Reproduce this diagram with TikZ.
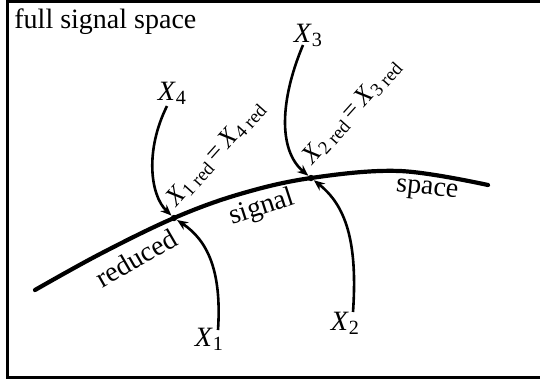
\documentclass[tikz,border=0pt]{standalone}
\usepackage{fontspec}
\setmainfont{Liberation Serif}
\usetikzlibrary{arrows.meta}
\newcommand\lowsub[1]{\raisebox{-0.3ex}{\scalebox{0.72}{#1}}}
\tikzset{
  frame/.style={line width=1.5pt},
  mainline/.style={line width=2.1pt, line cap=round},
  conn/.style={line width=1.3pt, -{Stealth[length=5.5pt,width=4.5pt]}},
  big/.style={font=\fontsize{14}{16}\selectfont, inner sep=0pt},
  small/.style={font=\fontsize{13}{15}\selectfont, inner sep=0pt},
  pt/.style={circle, fill=black, inner sep=0pt, minimum size=3.2pt},
}
\begin{document}
\begin{tikzpicture}[x=0.5pt,y=-0.5pt]
\useasboundingbox (0,0) rectangle (540,388);
\draw[frame] (7,1) rectangle (560,377);
\node[big, anchor=base west] (title) at (14,28) {full signal space};
% main curve
\node[pt] (p1) at (174,218) {};
\node[pt] (p2) at (311,178) {};
\draw[mainline] plot[smooth, tension=0.6] coordinates {(35,290) (100,254) (174,218) (240,194) (311,178) (400,171) (488,185)};
% labels on curve
\node[big, rotate=30] (lred) at (136,258) {reduced};
\node[big, rotate=18] (lsig) at (262,208) {signal};
\node[big, rotate=-6] (lspa) at (427,191) {space};
% X labels
\node[big] (x4) at (172,93) {\textit{X}\lowsub{4}};
\node[big] (x3) at (308,35) {\textit{X}\lowsub{3}};
\node[big] (x1) at (209,339) {\textit{X}\lowsub{1}};
\node[big] (x2) at (345,323) {\textit{X}\lowsub{2}};
% arrows
\draw[conn] (167,106) .. controls (145,150) and (150,195) .. (p1);
\draw[conn] (303,45) .. controls (280,100) and (278,150) .. (p2);
\draw[conn] (218,330) .. controls (222,270) and (207,240) .. (p1);
\draw[conn] (353,312) .. controls (358,240) and (345,205) .. (p2);
% rotated equality labels
\node[small, rotate=48, anchor=base west] (e1) at (176,208) {\textit{X}\lowsub{1 red}\,=\,\textit{X}\lowsub{4 red}};
\node[small, rotate=48, anchor=base west] (e2) at (312,166) {\textit{X}\lowsub{2 red}\,=\,\textit{X}\lowsub{3 red}};
\end{tikzpicture}
\end{document}
